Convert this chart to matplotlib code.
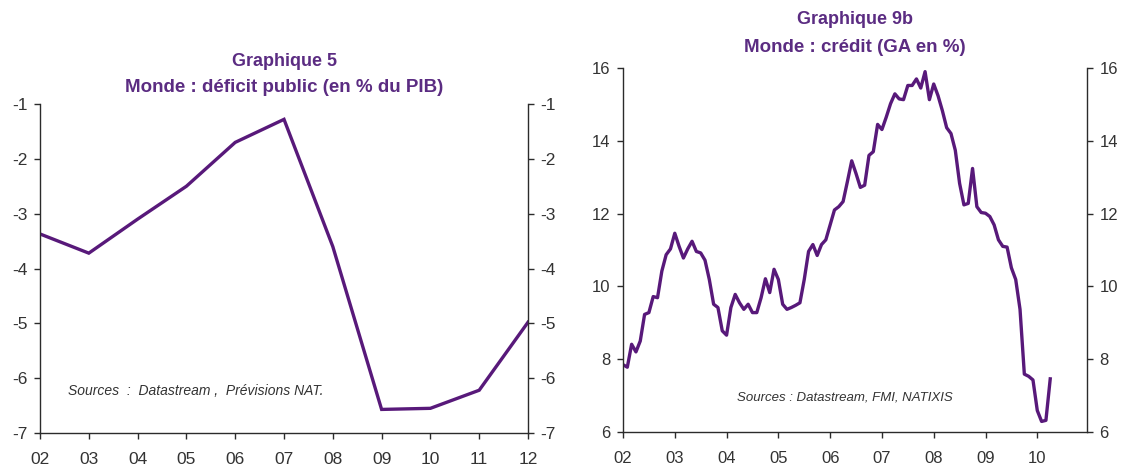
import numpy as np
import matplotlib
matplotlib.use("Agg")
import matplotlib.pyplot as plt
from matplotlib import font_manager

plt.rcParams['axes.unicode_minus'] = False

# ---------------- data ----------------
deficit_years = [2002, 2003, 2004, 2005, 2006, 2007, 2008, 2009, 2010, 2011, 2012]
deficit_values = [-3.37, -3.72, -3.10, -2.50, -1.70, -1.28, -3.60, -6.57, -6.55, -6.22, -4.98]
deficit_ticks = ['02', '03', '04', '05', '06', '07', '08', '09', '10', '11', '12']

credit_start_year = 2002.0
credit_values = [
    7.85, 7.78, 8.41, 8.20, 8.50, 9.23, 9.28, 9.72, 9.69, 10.42, 10.87, 11.03,
    11.46, 11.10, 10.78, 11.03, 11.24, 10.96, 10.92, 10.72, 10.19, 9.51, 9.42, 8.78,
    8.66, 9.42, 9.78, 9.55, 9.37, 9.51, 9.28, 9.28, 9.69, 10.21, 9.83, 10.47,
    10.19, 9.51, 9.37, 9.42, 9.48, 9.55, 10.19, 10.96, 11.15, 10.85, 11.15, 11.28,
    11.69, 12.10, 12.19, 12.33, 12.88, 13.45, 13.10, 12.72, 12.78, 13.60, 13.70, 14.45,
    14.31, 14.65, 15.02, 15.29, 15.15, 15.13, 15.52, 15.52, 15.70, 15.45, 15.90, 15.13,
    15.56, 15.24, 14.83, 14.36, 14.20, 13.74, 12.83, 12.24, 12.28, 13.24, 12.19, 12.03,
    12.01, 11.92, 11.69, 11.28, 11.10, 11.08, 10.51, 10.19, 9.37, 7.59, 7.53, 7.43,
    6.59, 6.29, 6.32, 7.46,
]
credit_tick_years = [2002, 2003, 2004, 2005, 2006, 2007, 2008, 2009, 2010]
credit_ticks = ['02', '03', '04', '05', '06', '07', '08', '09', '10']

# ---------------- style ----------------
LINE = '#58197a'
TITLE = '#5b2c82'
AXC = '#2b2b2b'
TXT = '#333333'

names = {f.name for f in font_manager.fontManager.ttflist}
base_font = 'Liberation Sans' if 'Liberation Sans' in names else 'DejaVu Sans'
plt.rcParams['font.family'] = [base_font, 'DejaVu Sans']

fig = plt.figure(figsize=(11.22, 4.69), dpi=100)
W, H = 1122, 469


def px_axes(x0, x1, ytop, ybot):
    return fig.add_axes([x0 / W, (H - ybot) / H, (x1 - x0) / W, (ybot - ytop) / H])


def style(ax, tsize):
    ax.spines['top'].set_visible(False)
    for s in ('left', 'right', 'bottom'):
        ax.spines[s].set_color(AXC)
        ax.spines[s].set_linewidth(1.0)
    ax.tick_params(axis='y', which='both', left=True, right=True, labelleft=True,
                   labelright=True, direction='out', length=4, width=1.0,
                   color=AXC, labelcolor=TXT, labelsize=tsize, pad=5)
    ax.tick_params(axis='x', direction='out', length=4, width=1.0, color=AXC,
                   labelcolor=TXT, labelsize=tsize, pad=10)
    ax.patch.set_alpha(0)


# ---- left chart ----
ax1 = px_axes(40, 528, 104, 433)
ax1.plot(deficit_years, deficit_values, color=LINE, lw=2.4, solid_joinstyle='miter')
ax1.set_xlim(2002, 2012)
ax1.set_ylim(-7, -1)
ax1.set_xticks(deficit_years)
ax1.set_xticklabels(deficit_ticks)
ax1.set_yticks(range(-7, 0))
style(ax1, 12.5)
ax1.text(0.5, 1.0 + 42 / 329, 'Graphique 5', transform=ax1.transAxes, ha='center',
         va='center', color=TITLE, fontsize=13, fontweight='bold')
ax1.text(0.5, 1.0 + 16 / 329, 'Monde : déficit public (en % du PIB)', transform=ax1.transAxes,
         ha='center', va='center', color=TITLE, fontsize=13.5, fontweight='bold')
ax1.text((68 - 40) / 488, (433 - 391) / 329, 'Sources  :  Datastream ,  Prévisions NAT.',
         transform=ax1.transAxes, fontsize=10, style='italic', color=TXT,
         ha='left', va='center')

# ---- right chart ----
ax2 = px_axes(623, 1087, 68, 432)
credit_x = credit_start_year + np.arange(len(credit_values)) / 12.0
ax2.plot(credit_x, credit_values, color=LINE, lw=2.4)
ax2.set_xlim(2002, 2010.96)
ax2.set_ylim(6, 16)
ax2.set_xticks(credit_tick_years)
ax2.set_xticklabels(credit_ticks)
ax2.set_yticks(range(6, 17, 2))
style(ax2, 12)
ax2.text(0.5, 1.0 + 48 / 364, 'Graphique 9b', transform=ax2.transAxes, ha='center',
         va='center', color=TITLE, fontsize=13, fontweight='bold')
ax2.text(0.5, 1.0 + 21 / 364, 'Monde : crédit (GA en %)', transform=ax2.transAxes,
         ha='center', va='center', color=TITLE, fontsize=13.5, fontweight='bold')
ax2.text((737 - 623) / 464, (432 - 397) / 364, 'Sources : Datastream, FMI, NATIXIS',
         transform=ax2.transAxes, fontsize=9.5, style='italic', color=TXT,
         ha='left', va='center')

fig.savefig('out.png', dpi=100)
